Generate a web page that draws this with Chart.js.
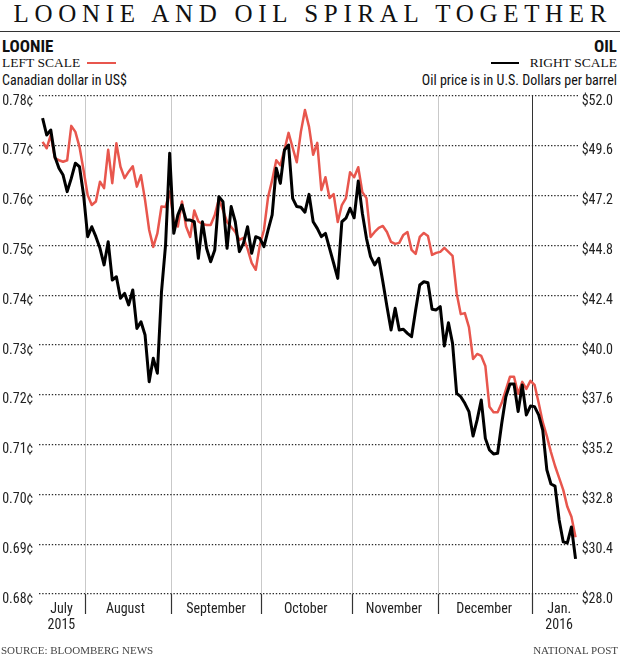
<!DOCTYPE html>
<html>
<head>
<meta charset="utf-8">
<script src="https://cdn.jsdelivr.net/npm/chart.js@4.4.1/dist/chart.umd.min.js"></script>
<style>
html,body{margin:0;padding:0;background:#fff;width:620px;height:664px;overflow:hidden;}
#wrap{position:relative;width:620px;height:664px;}
#c{position:absolute;left:0;top:0;}
.t{position:absolute;white-space:nowrap;color:#111;}
.serif{font-family:"Liberation Serif","DejaVu Serif",serif;}
.cond{font-family:"Liberation Sans Narrow","Roboto Condensed","DejaVu Sans Condensed","Liberation Sans",sans-serif;}
#title{left:0;width:620px;top:0;height:28px;line-height:28px;text-align:center;font-size:25px;letter-spacing:5.7px;padding-left:5.7px;box-sizing:border-box;}
#rule{position:absolute;left:0;width:620px;top:31px;border-top:1.5px solid #333;}
.hd{font-size:17px;font-weight:bold;line-height:20px;top:36px;}
.sc{font-size:13.5px;line-height:16px;top:55px;}
.sub{font-size:14px;line-height:16px;top:72px;}
.swatch{position:absolute;top:62px;height:0;}
.foot{font-size:11px;line-height:14px;top:643px;color:#444;}
</style>
</head>
<body>
<div id="wrap">
  <div id="title" class="t serif">LOONIE AND OIL SPIRAL TOGETHER</div>
  <div id="rule"></div>
  <div class="t cond hd" style="left:2px">LOONIE</div>
  <div class="t serif sc" style="left:2px">LEFT SCALE</div>
  <div class="swatch" style="left:87px;width:29px;border-top:2.5px solid #e8564d"></div>
  <div class="t cond sub" style="left:2px">Canadian dollar in US$</div>
  <div class="t cond hd" style="right:3px">OIL</div>
  <div class="t serif sc" style="right:3px">RIGHT SCALE</div>
  <div class="swatch" style="left:491px;width:28px;border-top:2.5px solid #000"></div>
  <div class="t cond sub" style="right:3px">Oil price is in U.S. Dollars per barrel</div>
  <canvas id="c" width="620" height="664"></canvas>
  <div class="t serif foot" style="left:1px">SOURCE: BLOOMBERG NEWS</div>
  <div class="t serif foot" style="right:2px">NATIONAL POST</div>
</div>
<script>
// ---- data (one value per weekday, Jul 17 2015 .. Jan 15 2016) ----
const loonie = [
0.7708,0.7695,0.7722,0.7675,0.7671,0.7668,0.7671,0.7740,0.7728,0.7698,
0.7651,0.7601,0.7581,0.7588,0.7628,0.7615,0.7692,0.7625,0.7705,0.7658,
0.7635,0.7648,0.7659,0.7618,0.7641,0.7591,0.7531,0.7497,0.7524,0.7578,
0.7577,0.7608,0.7548,0.7538,0.7588,0.7538,0.7517,0.7570,0.7548,0.7543,
0.7541,0.7541,0.7561,0.7593,0.7571,0.7547,0.7537,0.7527,0.7511,0.7515,
0.7493,0.7465,0.7451,0.7501,0.7531,0.7597,0.7631,0.7671,0.7661,0.7692,
0.7726,0.7696,0.7667,0.7728,0.7772,0.7738,0.7682,0.7706,0.7611,0.7637,
0.7595,0.7603,0.7547,0.7581,0.7595,0.7647,0.7637,0.7657,0.7607,0.7595,
0.7517,0.7527,0.7535,0.7539,0.7527,0.7507,0.7503,0.7505,0.7521,0.7527,
0.7491,0.7483,0.7517,0.7525,0.7519,0.7481,0.7485,0.7487,0.7495,0.7487,
0.7479,0.7404,0.7362,0.7364,0.7336,0.7272,0.7282,0.7278,0.7258,0.7176,
0.7165,0.7165,0.7184,0.7210,0.7236,0.7236,0.7202,0.7226,0.7212,0.7228,
0.7220,0.7184,0.7145,0.7117,0.7085,0.7057,0.7033,0.7009,0.6975,0.6955,
0.6914];
const oil = [
50.93,50.12,50.36,49.07,48.52,48.19,47.39,48.03,48.76,48.59,
47.23,45.22,45.70,45.22,44.66,43.86,44.98,43.13,43.29,42.25,
42.49,41.93,42.65,40.80,41.12,40.48,38.23,39.36,38.64,42.55,
44.82,49.24,45.38,46.27,46.75,46.02,46.02,45.94,44.18,45.94,
44.66,44.01,44.58,47.15,46.91,44.66,46.67,45.94,44.50,44.90,
45.70,44.42,45.22,45.14,44.74,45.54,46.27,48.52,47.79,49.40,
49.64,47.07,46.67,46.64,46.40,47.26,45.94,45.62,45.22,45.38,
44.66,43.94,43.21,45.94,46.11,46.59,46.13,47.90,46.35,45.14,
44.26,43.86,44.18,43.05,41.85,40.72,41.77,40.72,40.76,40.56,
40.40,41.69,42.89,43.05,43.00,41.72,41.69,41.85,39.95,41.07,
40.08,37.67,37.51,37.19,36.79,35.61,36.39,37.35,35.50,34.94,
34.75,34.78,36.23,37.51,38.12,38.12,36.79,38.07,36.63,37.06,
37.03,36.63,35.90,33.98,33.30,33.20,31.57,30.51,30.46,31.23,
29.69];
const loonieTicks = [0.68,0.69,0.70,0.71,0.72,0.73,0.74,0.75,0.76,0.77,0.78];
const oilTicks = [28.0,30.4,32.8,35.2,37.6,40.0,42.4,44.8,47.2,49.6,52.0];
const monthLabels = [['July','2015'],'August','September','October','November','December',['Jan.','2016']];
const monthLabelPos = [4.6,20.2,42.3,64.2,85.7,107.7,126.0];
const monthDividers = [10.5,31.5,53.5,75.5,96.5,119.5];

// ---- x-axis tick table ----
const xTicks = [];
monthLabelPos.forEach((p,k)=>xTicks.push({value:p,label:monthLabels[k],kind:'label'}));
monthDividers.forEach((p,k)=>xTicks.push({value:p,label:'',kind:(k===monthDividers.length-1)?'year':'div'}));
xTicks.sort((a,b)=>a.value-b.value);

const COND = '"Liberation Sans Narrow","Roboto Condensed","DejaVu Sans Condensed","Liberation Sans",sans-serif';
Chart.defaults.font.family = COND;
Chart.defaults.color = '#222';

new Chart(document.getElementById('c'), {
  type:'line',
  data:{
    datasets:[
      {label:'Oil', data:oil.map((v,i)=>({x:i,y:v})), yAxisID:'y1',
       borderColor:'#000', borderWidth:3, pointRadius:0, tension:0, borderJoinStyle:'round'},
      {label:'Loonie', data:loonie.map((v,i)=>({x:i,y:v})), yAxisID:'y',
       borderColor:'#e8564d', borderWidth:2.5, pointRadius:0, tension:0, borderJoinStyle:'round'}
    ]
  },
  options:{
    responsive:false, animation:false, events:[],
    layout:{padding:{left:0,right:7,top:96,bottom:30}},
    plugins:{legend:{display:false},tooltip:{enabled:false}},
    scales:{
      x:{
        type:'linear', position:'bottom', min:-0.8, max:130.6,
        afterBuildTicks:s=>{ s.ticks = xTicks.map(t=>({value:t.value})); },
        afterFit:s=>{ s.height = 40; },
        ticks:{autoSkip:false, maxRotation:0, minRotation:0, padding:-13,
          font:{size:14, lineHeight:1.15}, color:'#222',
          callback:(v,i)=>xTicks[i].label},
        grid:{drawOnChartArea:true, drawTicks:true, tickLength:20,
          color:c=>{const k=xTicks[c.index]&&xTicks[c.index].kind; return k==='year'?'#333':(k==='div'?'#c9c9c9':'rgba(0,0,0,0)');},
          lineWidth:c=>{const k=xTicks[c.index]&&xTicks[c.index].kind; return k==='label'?0:1;},
          tickColor:c=>{const k=xTicks[c.index]&&xTicks[c.index].kind; return k==='label'?'rgba(0,0,0,0)':'#333';},
          tickWidth:c=>{const k=xTicks[c.index]&&xTicks[c.index].kind; return k==='label'?0:1.2;}},
        border:{display:false}
      },
      y:{
        type:'linear', position:'left', min:0.68, max:0.78,
        afterBuildTicks:s=>{ s.ticks = loonieTicks.map(v=>({value:v})); },
        afterFit:s=>{ s.width = 39.3; },
        ticks:{padding:6, labelOffset:5, font:{size:14}, color:'#222',
          callback:v=>v.toFixed(2)+'\u00a2'},
        grid:{color:'#2a2a2a', lineWidth:1.2, drawTicks:false},
        border:{display:false, dash:[1.4,1.8]}
      },
      y1:{
        type:'linear', position:'right', min:28, max:52,
        afterBuildTicks:s=>{ s.ticks = oilTicks.map(v=>({value:v})); },
        afterFit:s=>{ s.width = 35; },
        ticks:{padding:4, labelOffset:5, crossAlign:'far', font:{size:14}, color:'#222',
          callback:v=>'$'+v.toFixed(1)},
        grid:{drawOnChartArea:false, drawTicks:false},
        border:{display:false}
      }
    }
  }
});
</script>
</body>
</html>
